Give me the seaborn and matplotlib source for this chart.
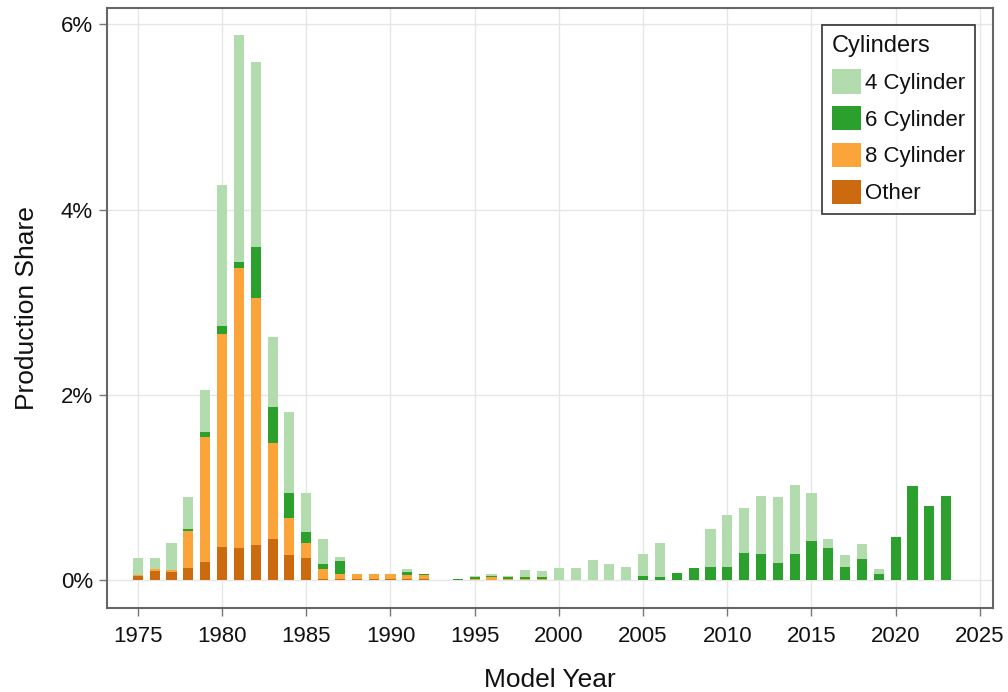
import matplotlib
matplotlib.use("Agg")
import matplotlib.pyplot as plt
import seaborn as sns
import pandas as pd
import numpy as np

# production share (%) by model year and cylinder group
years = list(range(1975, 2024))

other = [0.05, 0.10, 0.09, 0.13, 0.20, 0.36, 0.35, 0.38, 0.45, 0.27,
         0.24, 0.02, 0.02, 0.015, 0.015, 0.02, 0.02, 0.02, 0.0, 0.005,
         0.01, 0.01, 0.01, 0.01, 0.01, 0.0, 0.0, 0.0, 0.0, 0.0,
         0.0, 0.0, 0.0, 0.0, 0.0, 0.0, 0.0, 0.0, 0.0, 0.0,
         0.0, 0.0, 0.0, 0.0, 0.0, 0.0, 0.0, 0.0, 0.0]

eight = [0.01, 0.02, 0.02, 0.40, 1.35, 2.30, 3.02, 2.67, 1.03, 0.40,
         0.16, 0.10, 0.05, 0.05, 0.05, 0.05, 0.04, 0.04, 0.005, 0.005,
         0.01, 0.03, 0.01, 0.01, 0.01, 0.0, 0.0, 0.0, 0.0, 0.0,
         0.0, 0.0, 0.0, 0.0, 0.0, 0.0, 0.0, 0.0, 0.0, 0.0,
         0.0, 0.0, 0.0, 0.0, 0.0, 0.0, 0.0, 0.0, 0.0]

six = [0.0, 0.0, 0.0, 0.02, 0.05, 0.08, 0.06, 0.55, 0.39, 0.27,
       0.12, 0.06, 0.14, 0.0, 0.0, 0.0, 0.03, 0.01, 0.0, 0.005,
       0.02, 0.01, 0.02, 0.02, 0.02, 0.01, 0.01, 0.01, 0.01, 0.01,
       0.05, 0.04, 0.08, 0.13, 0.14, 0.15, 0.30, 0.28, 0.19, 0.29,
       0.43, 0.35, 0.14, 0.23, 0.07, 0.47, 1.02, 0.80, 0.91]

four = [0.18, 0.12, 0.29, 0.35, 0.45, 1.52, 2.45, 1.99, 0.76, 0.88,
        0.42, 0.27, 0.04, 0.0, 0.0, 0.0, 0.03, 0.0, 0.0, 0.0,
        0.01, 0.02, 0.005, 0.07, 0.06, 0.12, 0.12, 0.21, 0.17, 0.13,
        0.23, 0.36, 0.0, 0.0, 0.42, 0.56, 0.48, 0.63, 0.71, 0.74,
        0.51, 0.10, 0.13, 0.16, 0.05, 0.0, 0.0, 0.0, 0.0]

groups = ['4 Cylinder', '6 Cylinder', '8 Cylinder', 'Other']
colors = ['#b3dcae', '#2ca02c', '#fba43a', '#cc6a10']

df = pd.DataFrame({
    'Model Year': years * 4,
    'share': four + six + eight + other,
    'Cylinders': np.repeat(groups, len(years)),
})

sns.set_style('white')
plt.rcParams['font.family'] = ['Liberation Sans', 'DejaVu Sans']
plt.rcParams['text.color'] = '#111111'
plt.rcParams['axes.labelcolor'] = '#111111'

fig = plt.figure(figsize=(10.08, 6.92), dpi=100)
ax = fig.add_axes([0.106, 0.121, 0.879, 0.867])

sns.histplot(data=df, x='Model Year', weights='share', hue='Cylinders',
             hue_order=groups, palette=colors, multiple='stack',
             discrete=True, shrink=0.6, linewidth=0, alpha=1, ax=ax)

ax.set_xlim(1973.16, 2025.77)
ax.set_ylim(-0.30, 6.17)
ax.set_xticks(range(1975, 2026, 5))
ax.set_yticks([0, 2, 4, 6])
ax.set_yticklabels([f'{v}%' for v in [0, 2, 4, 6]])
ax.grid(True, color='#e6e6e6', linewidth=1)
ax.set_axisbelow(True)

for s in ax.spines.values():
    s.set_color('#666666')
    s.set_linewidth(1.5)
ax.tick_params(axis='both', which='major', direction='out', length=6,
               width=1, color='#777777', labelsize=16, pad=4,
               labelcolor='#111111')
ax.tick_params(axis='x', bottom=True, pad=7)
ax.tick_params(axis='y', left=True)

ax.set_xlabel('Model Year', fontsize=19, labelpad=15)
ax.set_ylabel('Production Share', fontsize=19, labelpad=16)

sns.move_legend(ax, 'upper right', bbox_to_anchor=(0.98, 0.972),
                frameon=True, fontsize=16, title_fontsize=17,
                handlelength=1.3, handleheight=1.3, handletextpad=0.2,
                labelspacing=0.55, borderpad=0.45, borderaxespad=0,
                fancybox=False)
leg = ax.get_legend()
leg.get_frame().set_edgecolor('black')
leg.get_frame().set_linewidth(1.2)
leg._legend_box.align = 'left'

fig.savefig('out.png', dpi=100)
